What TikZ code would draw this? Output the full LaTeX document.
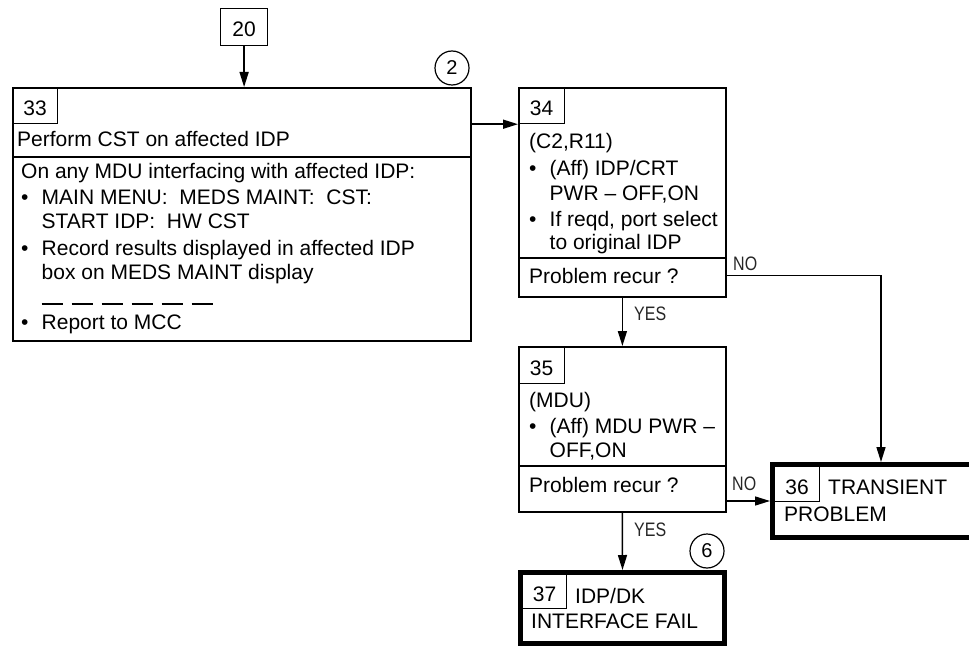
\documentclass[tikz,border=0pt]{standalone}
\usepackage{fontspec}
\setmainfont{Liberation Sans}
\newfontfamily\ynfont[FakeStretch=0.82]{Liberation Sans}
\usetikzlibrary{arrows.meta, positioning, calc}

\newcommand{\bul}{\makebox[20.5pt][l]{\textbullet}}
\newcommand{\ind}{\hspace*{20.5pt}}
\newcommand{\dsh}{\rule[0.5pt]{21pt}{1.2pt}\hspace{9pt}}

\begin{document}
\begin{tikzpicture}[
    x=1pt, y=-1pt,
    font=\fontsize{21}{24}\selectfont,
    box/.style={draw, line width=1.8pt, inner sep=0pt, anchor=north west},
    endbox/.style={draw, line width=5pt, inner sep=0pt, anchor=north west},
    numbox/.style={draw, line width=1.2pt, inner sep=0pt, anchor=north west,
        minimum width=45pt, minimum height=36pt, text height=20pt, text depth=0pt},
    txt/.style={inner sep=0pt, anchor=base west, align=left},
    yn/.style={inner sep=0pt, anchor=base west, text=black!85,
        font=\ynfont\fontsize{19.5}{22}\selectfont},
    pg/.style={draw, circle, line width=1.2pt, minimum size=34pt, inner sep=0pt,
        font=\fontsize{20}{22}\selectfont},
    arr/.style={-{Triangle[length=15pt, width=9pt]}, line width=1.5pt}
]
\useasboundingbox (0,0) rectangle (969,647);
\clip (0,0) rectangle (969,647);

% entry and step 33
\node[numbox, minimum width=47pt, minimum height=37pt, text height=18pt] (n20) at (220,8) {20};
\node[pg] (p2) at (452,68) {2};
\node[box, minimum width=458pt, minimum height=253pt] (b33) at (12,87) {};
\node[numbox] (n33) at (b33.north west) {33};
\node[txt] (t33) at (17,147) {Perform CST on affected IDP};
\draw[line width=1.8pt] (b33.north west) ++(0,70) coordinate (d33) -- (d33 -| b33.east);
% multi-line texts sit on the baseline of their last line
\node[txt] (s33) at (21,329) {On any MDU interfacing with affected IDP:\\[2pt]
    \bul MAIN MENU:\ \ MEDS MAINT:\ \ CST:\\
    \ind START IDP:\ \ HW CST\\[3pt]
    \bul Record results displayed in affected IDP\\
    \ind box on MEDS MAINT display\\[2pt]
    \ind \dsh\dsh\dsh\dsh\dsh\rule[0.5pt]{21pt}{1.2pt}\\
    \bul Report to MCC};

% step 34
\node[box, minimum width=207pt, minimum height=209pt] (b34) at (518,87) {};
\node[numbox, minimum width=46pt] (n34) at (b34.north west) {34};
\node[txt] (t34) at (529,250) {(C2,R11)\\[3pt]
    \bul (Aff) IDP/CRT\\
    \ind PWR -- OFF,ON\\[2pt]
    \bul If reqd, port select\\
    \ind to original IDP};
\draw[line width=1.8pt] (b34.north west) ++(0,171) coordinate (d34) -- (d34 -| b34.east);
\node[txt] (q34) at (529,283) {Problem recur ?};

% step 35
\node[box, minimum width=207pt, minimum height=165pt] (b35) at (518,346) {};
\node[numbox, minimum width=46pt, minimum height=37pt] (n35) at (b35.north west) {35};
\node[txt] (t35) at (529,457) {(MDU)\\[2pt]
    \bul (Aff) MDU PWR --\\
    \ind OFF,ON};
\draw[line width=1.8pt] (b35.north west) ++(0,120) coordinate (d35) -- (d35 -| b35.east);
\node[txt] (q35) at (529,492) {Problem recur ?};

% end boxes
\node[endbox, minimum width=217pt, minimum height=73pt] (b36) at (770,462) {};
\node[numbox, minimum height=35pt] (n36) at (774,466) {36};
\node[txt] (t36) at (784,521) {\hspace*{44pt}TRANSIENT\\[3pt]PROBLEM};
\node[endbox, minimum width=204pt, minimum height=71pt] (b37) at (518,570) {};
\node[numbox, minimum width=44pt, minimum height=34pt] (n37) at (522,574) {37};
\node[txt] (t37) at (531,628) {\hspace*{44pt}IDP/DK\\[1pt]INTERFACE FAIL};
\node[pg] (p6) at (707,551) {6};

% connectors
\draw[arr] (n20.south) -- (n20 |- b33.north);
\draw[arr] (b33.east |- n34.south) -- (n34.south west);
\draw[arr] (b34.south) -- (b35.north);
\draw[arr] (b35.south) -- (b37.north);
\draw[arr] (q34.east -| b34.east) -| (b36.north);
\draw[arr] (b35.east |- b36.west) -- (b36.west);

\node[yn] (y34) at (634,320) {YES};
\node[yn] (o34) at (733,270) {NO};
\node[yn] (y35) at (634,536) {YES};
\node[yn] (o35) at (732,490) {NO};

\end{tikzpicture}
\end{document}
